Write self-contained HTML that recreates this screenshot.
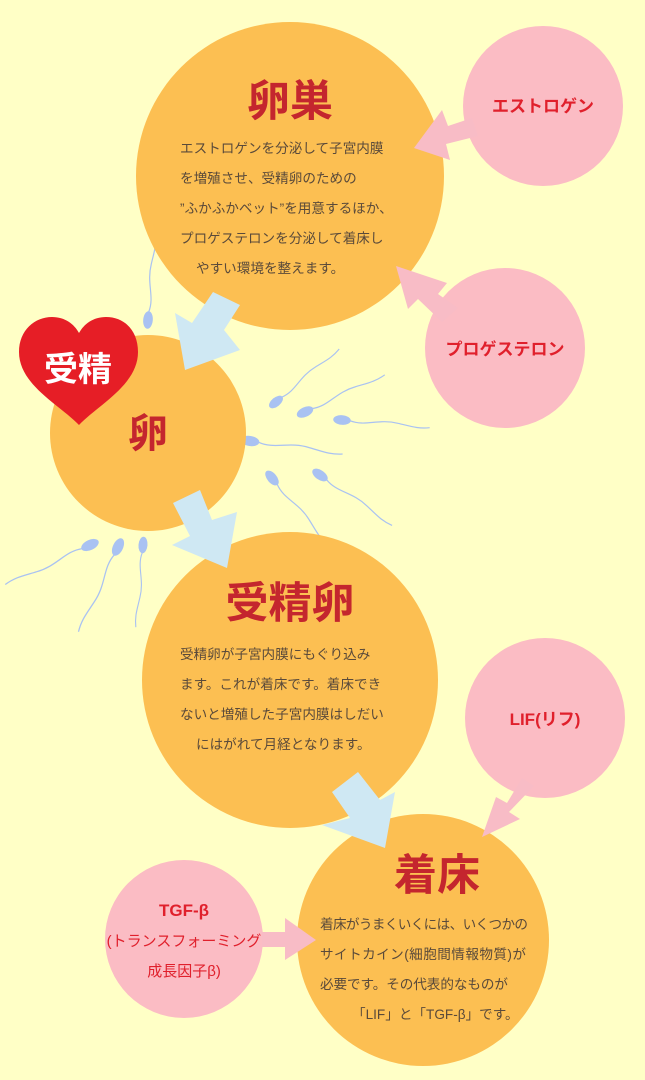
<!DOCTYPE html>
<html><head><meta charset="utf-8"><style>
html,body{margin:0;padding:0;background:#ffffc6;}
svg{display:block}
text{font-family:"Liberation Sans","Noto Sans CJK JP",sans-serif;}
.t{font-size:13.6px;fill:#5a4a3a;}
.h{font-weight:bold;fill:#c4262e;text-anchor:middle}
.p{font-weight:bold;fill:#e0202c;text-anchor:middle;font-size:17px}
</style></head><body>
<svg width="645" height="1080" viewBox="0 0 645 1080">
<rect width="645" height="1080" fill="#ffffc6"/>
<defs>
<g id="sp"><ellipse cx="0" cy="0" rx="11" ry="6" fill="#a9c2f2"/><path d="M10,0 C30,6 45,-6 70,-2 C85,0 95,3 110,0" stroke="#a9c2f2" stroke-width="1.5" fill="none"/></g>
</defs>
<use href="#sp" transform="translate(148,320) rotate(-85) scale(0.8)"/>
<use href="#sp" transform="translate(276,402) rotate(-40) scale(0.75)"/>
<use href="#sp" transform="translate(305,412) rotate(-25) scale(0.8)"/>
<use href="#sp" transform="translate(342,420) rotate(5) scale(0.8)"/>
<use href="#sp" transform="translate(250,441) rotate(8) scale(0.85)"/>
<use href="#sp" transform="translate(272,478) rotate(50) scale(0.8)"/>
<use href="#sp" transform="translate(320,475) rotate(35) scale(0.8)"/>
<use href="#sp" transform="translate(90,545) rotate(155) scale(0.85)"/>
<use href="#sp" transform="translate(118,547) rotate(115) scale(0.85)"/>
<use href="#sp" transform="translate(143,545) rotate(95) scale(0.75)"/>
<circle cx="543" cy="106" r="80" fill="#fbbcc4"/>
<circle cx="505" cy="348" r="80" fill="#fbbcc4"/>
<circle cx="545" cy="718" r="80" fill="#fbbcc4"/>
<circle cx="184" cy="939" r="79" fill="#fbbcc4"/>
<circle cx="290" cy="176" r="154" fill="#fcbf52"/>
<circle cx="148" cy="433" r="98" fill="#fcbf52"/>
<circle cx="290" cy="680" r="148" fill="#fcbf52"/>
<circle cx="423" cy="940" r="126" fill="#fcbf52"/>
<polygon points="472,118 448,126 442,110 414,148 450,160 446,144 478,136" fill="#f8bcc6"/>
<polygon points="458,308 438,294 447,283 396,266 408,309 418,299 442,322" fill="#f8bcc6"/>
<polygon points="522,778 507,803 496,797 482,837 520,819 509,812 534,786" fill="#f8bcc6"/>
<polygon points="262,932 285,932 285,918 316,940 285,960 285,947 262,947" fill="#f8bcc6"/>
<polygon points="213,292 240,305 224,330 240,350 185,370 175,313 192,323" fill="#cfe8f3"/>
<polygon points="173,503 200,490 212,520 237,512 227,568 172,545 190,536" fill="#cfe8f3"/>
<polygon points="332,792 358,772 380,800 395,792 385,848 322,825 350,818" fill="#cfe8f3"/>
<path d="M79,425 C60,405 19,385 19,352 C19,330 35,317 52,317 C65,317 74,324 79,333 C84,324 93,317 106,317 C124,317 138,330 138,352 C138,385 98,405 79,425 Z" fill="#e61e26"/>
<text x="78" y="381" font-size="34" font-weight="bold" fill="#fff" text-anchor="middle">受精</text>
<text x="290" y="116" font-size="43" class="h">卵巣</text>
<text x="148" y="447" font-size="40" class="h">卵</text>
<text x="290" y="618" font-size="43" class="h">受精卵</text>
<text x="437" y="890" font-size="43" class="h">着床</text>
<text class="t" x="180" y="153">エストロゲンを分泌して子宮内膜</text>
<text class="t" x="180" y="183">を増殖させ、受精卵のための</text>
<text class="t" x="180" y="213">”ふかふかベット”を用意するほか、</text>
<text class="t" x="180" y="243">プロゲステロンを分泌して着床し</text>
<text class="t" x="196" y="273">やすい環境を整えます。</text>
<text class="t" x="180" y="659">受精卵が子宮内膜にもぐり込み</text>
<text class="t" x="180" y="689">ます。これが着床です。着床でき</text>
<text class="t" x="180" y="719">ないと増殖した子宮内膜はしだい</text>
<text class="t" x="196" y="749">にはがれて月経となります。</text>
<text class="t" x="320" y="929" textLength="208">着床がうまくいくには、いくつかの</text>
<text class="t" x="320" y="959" textLength="206">サイトカイン(細胞間情報物質)が</text>
<text class="t" x="320" y="989" textLength="188">必要です。その代表的なものが</text>
<text class="t" x="352" y="1019">「LIF」と「TGF-β」です。</text>
<text class="p" x="543" y="112">エストロゲン</text>
<text class="p" x="505" y="355">プロゲステロン</text>
<text class="p" x="545" y="725">LIF(リフ)</text>
<text class="p" x="184" y="916">TGF-β</text>
<text class="p" x="184" y="946" style="font-weight:normal;font-size:15px">(トランスフォーミング</text>
<text class="p" x="184" y="976" style="font-weight:normal;font-size:15px">成長因子β)</text>
</svg>
</body></html>
